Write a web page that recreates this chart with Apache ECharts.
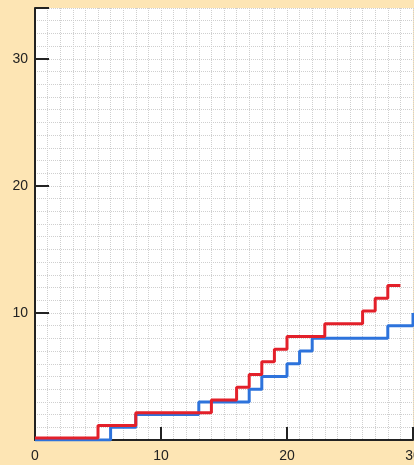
<!DOCTYPE html>
<html>
<head>
<meta charset="utf-8">
<script src="https://cdn.jsdelivr.net/npm/echarts@6/dist/echarts.min.js"></script>
<style>
  html, body { margin: 0; padding: 0; background: #fde5b4; }
  #main { width: 414px; height: 465px; }
</style>
</head>
<body>
<div id="main"></div>
<script>
// step data: [x, level]
var redSteps = [[0, 0], [5, 1], [8, 2], [14, 3], [16, 4], [17, 5], [18, 6], [19, 7],
  [20, 8], [23, 9], [26, 10], [27, 11], [28, 12], [29, 12]];
var blueSteps = [[0, 0], [6, 1], [8, 2], [13, 3], [17, 4], [18, 5], [20, 6], [21, 7],
  [22, 8], [28, 9], [30, 10]];
var xTicks = [0, 10, 20, 30];
var yTicks = [10, 20, 30];

var chartDom = document.getElementById('main');
var myChart = echarts.init(chartDom);
var option;

var gridLine = { color: '#cfcfcf', type: 'dotted', width: 1 };

option = {
  backgroundColor: '#fde5b4',
  animation: false,
  grid: {
    left: 35,
    right: 1,
    top: 8,
    bottom: 25,
    outerBoundsMode: 'none',
    containLabel: false,
    show: true,
    backgroundColor: '#ffffff',
    borderWidth: 0
  },
  xAxis: {
    type: 'value',
    min: 0,
    max: 30,
    interval: 10,
    axisLine: { show: true, onZero: false, lineStyle: { color: '#222', width: 2 } },
    axisTick: { show: true, inside: true, length: 13, lineStyle: { color: '#222', width: 2 } },
    axisLabel: {
      color: '#222',
      fontSize: 14,
      fontFamily: 'Liberation Sans, Arial, sans-serif',
      margin: 9,
      hideOverlap: false,
      formatter: function (v) { return xTicks.indexOf(v) >= 0 ? String(v) : ''; }
    },
    splitLine: { show: true, lineStyle: gridLine },
    minorTick: { show: false, splitNumber: 10 },
    minorSplitLine: { show: true, lineStyle: gridLine }
  },
  yAxis: [
    {
      type: 'value',
      min: 0,
      max: 34,
      interval: 10,
      axisLine: { show: true, onZero: false, lineStyle: { color: '#222', width: 2 } },
      axisTick: { show: true, inside: true, length: 14, lineStyle: { color: '#222', width: 2 } },
      axisLabel: {
        color: '#222',
        fontSize: 14,
        fontFamily: 'Liberation Sans, Arial, sans-serif',
        margin: 7,
        showMinLabel: false,
        formatter: function (v) { return yTicks.indexOf(v) >= 0 ? String(v) : ''; }
      },
      splitLine: { show: true, lineStyle: gridLine },
      minorTick: { show: false, splitNumber: 10 },
      minorSplitLine: { show: true, lineStyle: gridLine }
    },
    {
      // hidden twin axis nudges the red curve up a hair so overlaps stay visible
      type: 'value',
      min: -0.15,
      max: 33.85,
      show: false,
      splitLine: { show: false }
    }
  ],
  series: [
    {
      name: 'blue',
      type: 'line',
      step: 'end',
      symbol: 'none',
      data: blueSteps,
      lineStyle: { color: '#2d73dc', width: 3 },
      z: 3
    },
    {
      name: 'red',
      type: 'line',
      step: 'end',
      symbol: 'none',
      yAxisIndex: 1,
      data: redSteps,
      lineStyle: { color: '#e3202a', width: 3 },
      z: 4
    }
  ]
};

option && myChart.setOption(option);
</script>
</body>
</html>
